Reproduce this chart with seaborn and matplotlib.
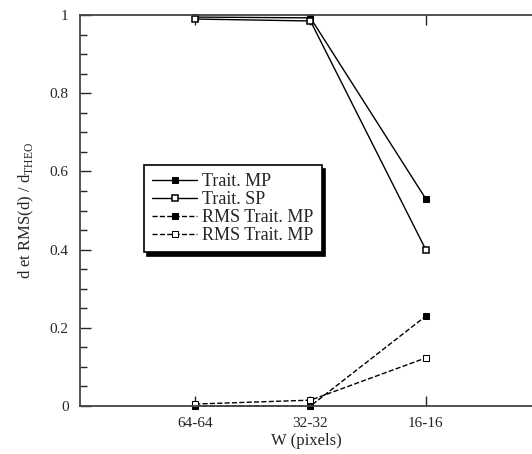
import numpy as np
import pandas as pd
import matplotlib
matplotlib.use("Agg")
import matplotlib.pyplot as plt
import seaborn as sns
from matplotlib.ticker import MultipleLocator

# Donnees
categories = ["64-64", "32-32", "16-16"]
trait_mp = [0.995, 0.993, 0.53]
trait_sp = [0.99, 0.985, 0.40]
rms_mp = [0.0, 0.0, 0.23]
rms_sp = [0.005, 0.015, 0.123]

sns.set_style("ticks")
plt.rcParams["font.family"] = ["Liberation Serif", "DejaVu Serif"]
plt.rcParams["mathtext.fontset"] = "custom"
plt.rcParams["mathtext.rm"] = "Liberation Serif"

xpos = np.arange(len(categories))

fig = plt.figure(figsize=(5.32, 4.54), dpi=100)
ax = fig.add_axes([0.150, 0.1057, 0.852, 0.861])

sns.lineplot(x=xpos, y=trait_mp, ax=ax, color="black", lw=1, marker="s",
             markersize=4.5, markerfacecolor="black", markeredgecolor="black",
             label="Trait. MP", clip_on=False)
sns.lineplot(x=xpos, y=trait_sp, ax=ax, color="black", lw=1, marker="s",
             markersize=4, markerfacecolor="white", markeredgecolor="black",
             markeredgewidth=1.1, label="Trait. SP", clip_on=False)
sns.lineplot(x=xpos, y=rms_mp, ax=ax, color="black", lw=1, ls="--",
             dashes=(3, 2.5), marker="s", markersize=4.5,
             markerfacecolor="black", markeredgecolor="black",
             label="RMS Trait. MP", clip_on=False)
sns.lineplot(x=xpos, y=rms_sp, ax=ax, color="black", lw=1, ls="--",
             dashes=(3, 2.5), marker="s", markersize=4.5,
             markerfacecolor="white", markeredgecolor="black",
             label="RMS Trait. MP", clip_on=False)

ax.set_xlim(-1, 2.93)
ax.set_ylim(0, 1)
ax.set_xticks(xpos)
ax.set_xticklabels(categories, fontsize=11)
ax.yaxis.set_minor_locator(MultipleLocator(0.05))
ax.set_yticks([0, 0.2, 0.4, 0.6, 0.8, 1.0])
ax.set_yticklabels(["0", "0.2", "0.4", "0.6", "0.8", "1"], fontsize=11)

ax.tick_params(axis="x", direction="in", top=True, bottom=True, length=7,
               width=1, pad=8)
ax.tick_params(axis="y", which="major", direction="in", length=8, width=1,
               pad=8)
ax.tick_params(axis="y", which="minor", direction="in", length=5, width=1)

for s in ["left", "top", "bottom"]:
    ax.spines[s].set_linewidth(1.3)
    ax.spines[s].set_color("#444444")
ax.spines["right"].set_visible(False)

ax.set_xlabel("W (pixels)", fontsize=12, labelpad=2)
ax.set_ylabel(r"d et RMS(d) / d$_{\mathrm{THEO}}$", fontsize=12, labelpad=10)

leg = ax.legend(loc="upper left", bbox_to_anchor=(0.1416, 0.616),
                borderaxespad=0, fontsize=13, frameon=True, fancybox=False,
                numpoints=1, handlelength=2.5, handletextpad=0.28,
                borderpad=0.45, labelspacing=0.05,
                shadow={"color": "black", "alpha": 1, "ox": 2.5, "oy": -2.5})
leg.get_frame().set_edgecolor("black")
leg.get_frame().set_linewidth(1.2)
leg.get_frame().set_alpha(1)

fig.savefig("out.png", dpi=100)
